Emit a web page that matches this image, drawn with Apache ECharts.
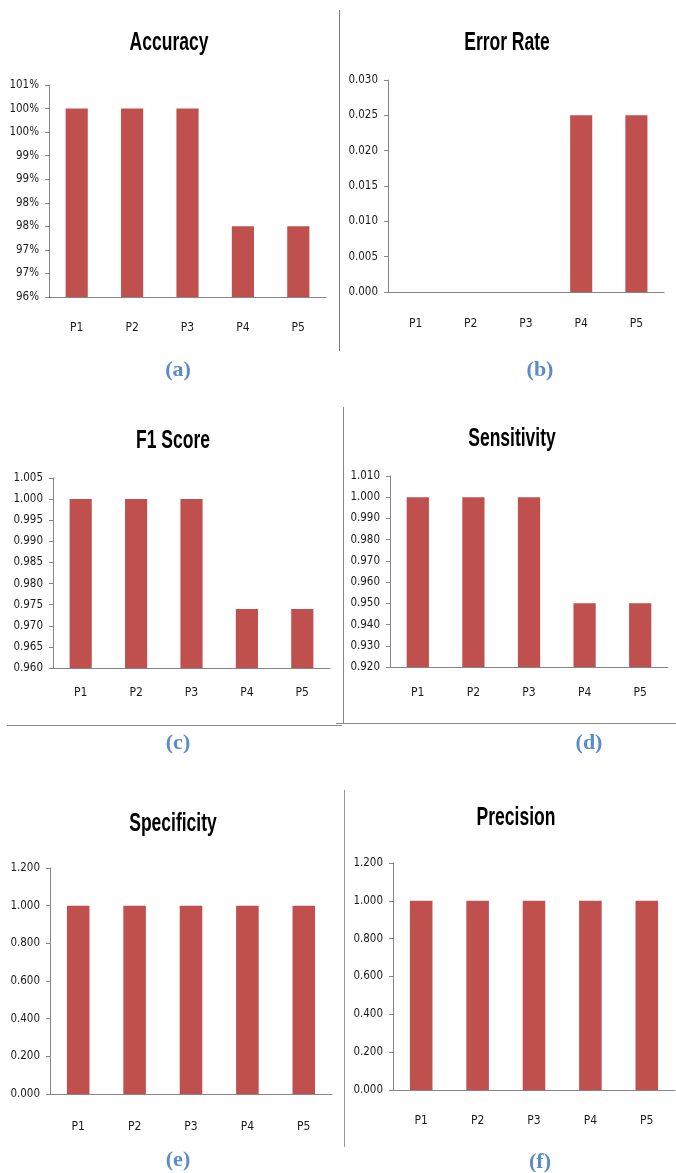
<!DOCTYPE html>
<html>
<head>
<meta charset="utf-8">
<title>Performance metrics</title>
<script src="https://cdn.jsdelivr.net/npm/echarts@6/dist/echarts.min.js"></script>
<style>
  html, body { margin: 0; padding: 0; background: #fff; }
  #chart { width: 676px; height: 1173px; }
</style>
</head>
<body>
<div id="chart"></div>
<script>
// data
const categories = ['P1', 'P2', 'P3', 'P4', 'P5']
const accuracy = [100, 100, 100, 97.5, 97.5] // percent
const errorRate = [0, 0, 0, 0.025, 0.025]
const f1Score = [1.0, 1.0, 1.0, 0.974, 0.974]
const sensitivity = [1.0, 1.0, 1.0, 0.95, 0.95]
const specificity = [1.0, 1.0, 1.0, 1.0, 1.0]
const precision = [1.0, 1.0, 1.0, 1.0, 1.0]

// y axis ranges: [min, max, interval]
const accuracyTicks = [96, 100.5, 0.5]
const errorRateTicks = [0, 0.03, 0.005]
const f1ScoreTicks = [0.96, 1.005, 0.005]
const sensitivityTicks = [0.92, 1.01, 0.01]
const specificityTicks = [0, 1.2, 0.2]
const precisionTicks = [0, 1.2, 0.2]

const titles = ['Accuracy', 'Error Rate', 'F1 Score', 'Sensitivity', 'Specificity', 'Precision']
const subLabels = ['(a)', '(b)', '(c)', '(d)', '(e)', '(f)']

const BAR = '#c0504d'
const AXIS = '#868686'
const FONT = "'DejaVu Sans Condensed', 'Liberation Sans', sans-serif"
const SERIF = "'Liberation Serif', 'DejaVu Serif', serif"
const CAPTION = '#5b8bc9'

const pct = (v) => Math.round(v) + '%'
const dec3 = (v) => v.toFixed(3)

// layout of each panel, in px
const panels = [
  { data: accuracy, ticks: accuracyTicks, fmt: pct, grid: [49, 85, 277, 212], title: [169, 43], label: [178, 370], margin: 25 },
  { data: errorRate, ticks: errorRateTicks, fmt: dec3, grid: [388, 80, 276, 212], title: [507, 43], label: [540, 370], margin: 26 },
  { data: f1Score, ticks: f1ScoreTicks, fmt: dec3, grid: [53, 478, 277, 190], title: [173, 441], label: [178, 743], margin: 19 },
  { data: sensitivity, ticks: sensitivityTicks, fmt: dec3, grid: [390, 476, 278, 191], title: [512, 439], label: [589, 743], margin: 20 },
  { data: specificity, ticks: specificityTicks, fmt: dec3, grid: [50, 868, 282, 226], title: [173, 824], label: [178, 1160], margin: 27 },
  { data: precision, ticks: precisionTicks, fmt: dec3, grid: [393, 863, 282, 227], title: [516, 818], label: [540, 1162], margin: 25 }
]

const option = {
  animation: false,
  title: [],
  grid: [],
  xAxis: [],
  yAxis: [],
  series: [],
  graphic: []
}

// the frame lines that cut up the figure
const line = (x1, y1, x2, y2, color) => ({
  type: 'line',
  shape: { x1: x1, y1: y1, x2: x2, y2: y2 },
  style: { stroke: color || '#8a8a8a', lineWidth: 1 }
})
option.graphic = [
  line(339.5, 10, 339.5, 351, '#777'),
  line(7, 725.5, 342, 725.5),
  line(343.5, 407, 343.5, 723.5),
  line(336, 723.5, 676, 723.5),
  line(344.5, 790, 344.5, 1147, '#999')
]

panels.forEach((p, i) => {
  // chart titles are tall and narrow (stretched calibri), so squeeze them
  option.graphic.push({
    type: 'text',
    x: p.title[0],
    y: p.title[1],
    scaleX: 0.7,
    style: {
      text: titles[i],
      fontFamily: "'Liberation Sans', sans-serif",
      fontSize: 25,
      fontWeight: 'bold',
      fill: '#000',
      align: 'center',
      verticalAlign: 'middle'
    }
  })
  option.title.push({
    text: subLabels[i],
    left: p.label[0],
    top: p.label[1],
    textAlign: 'center',
    textVerticalAlign: 'middle',
    padding: 0,
    textStyle: { fontFamily: SERIF, fontSize: 22, fontWeight: 'bold', color: CAPTION }
  })
  option.grid.push({
    left: p.grid[0],
    top: p.grid[1],
    width: p.grid[2],
    height: p.grid[3],
    containLabel: false
  })
  option.xAxis.push({
    type: 'category',
    gridIndex: i,
    data: categories,
    axisLine: { lineStyle: { color: AXIS, width: 1 } },
    axisTick: { length: 5, lineStyle: { color: AXIS } },
    axisLabel: { margin: p.margin, fontFamily: FONT, fontSize: 12, color: '#1a1a1a' }
  })
  option.yAxis.push({
    type: 'value',
    gridIndex: i,
    min: p.ticks[0],
    max: p.ticks[1],
    interval: p.ticks[2],
    splitLine: { show: false },
    axisLine: { show: true, lineStyle: { color: AXIS, width: 1 } },
    axisTick: { show: true, length: 4, lineStyle: { color: AXIS } },
    axisLabel: { margin: 10, fontFamily: FONT, fontSize: 11.5, color: '#1a1a1a', formatter: p.fmt }
  })
  option.series.push({
    type: 'bar',
    xAxisIndex: i,
    yAxisIndex: i,
    data: p.data,
    barWidth: '40%',
    itemStyle: { color: BAR }
  })
})

const myChart = echarts.init(document.getElementById('chart'))
myChart.setOption(option)
</script>
</body>
</html>
